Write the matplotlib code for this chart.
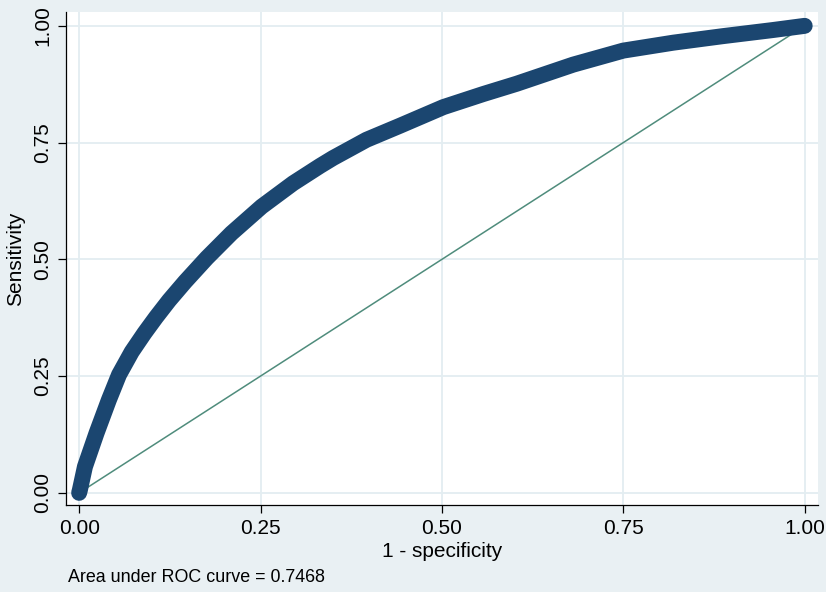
import numpy as np
import matplotlib
matplotlib.use("Agg")
import matplotlib.pyplot as plt

# ROC points (1 - specificity, sensitivity)
fpr = [0.0, 0.001, 0.008, 0.024, 0.041, 0.055, 0.0725, 0.09, 0.106, 0.124,
       0.146, 0.176, 0.210, 0.2516, 0.295, 0.332, 0.350, 0.396, 0.442,
       0.502, 0.557, 0.603, 0.681, 0.750, 0.819, 0.8875, 0.956, 1.0]
tpr = [0.0, 0.006, 0.056, 0.128, 0.199, 0.253, 0.302, 0.342, 0.376, 0.412,
       0.452, 0.503, 0.556, 0.613, 0.663, 0.700, 0.717, 0.756, 0.786,
       0.826, 0.854, 0.876, 0.917, 0.947, 0.964, 0.978, 0.991, 1.0]
ref_line = [0.0, 1.0]
ticks = [0.0, 0.25, 0.50, 0.75, 1.0]
tick_labels = ["0.00", "0.25", "0.50", "0.75", "1.00"]
auc_text = "Area under ROC curve = 0.7468"

plt.rcParams["font.family"] = ["Liberation Sans", "DejaVu Sans"]

bg = "#e9f0f3"
fig = plt.figure(figsize=(8.26, 5.92), dpi=100, facecolor=bg)
ax = fig.add_axes([0.080, 0.147, 0.910, 0.833])
ax.set_facecolor("white")

ax.grid(True, color="#e3edf1", linewidth=1.3)
ax.set_axisbelow(True)

ax.plot(ref_line, ref_line, color="#4f8c7c", linewidth=1.1, zorder=2)
ax.plot(fpr, tpr, color="#1b4670", linewidth=11.5,
        solid_capstyle="round", solid_joinstyle="round", zorder=3)

ax.set_xlim(-0.018, 1.018)
ax.set_ylim(-0.026, 1.030)
ax.set_xticks(ticks)
ax.set_xticklabels(tick_labels)
ax.set_yticks(ticks)
ax.set_yticklabels(tick_labels, rotation=90, va="center")
ax.tick_params(direction="out", length=6, width=0.9, colors="black",
               labelsize=15, pad=4)

for side in ["top", "right"]:
    ax.spines[side].set_visible(False)
for side in ["left", "bottom"]:
    ax.spines[side].set_color("black")
    ax.spines[side].set_linewidth(0.9)

ax.set_xlabel("1 - specificity", fontsize=15, labelpad=3)
ax.set_ylabel("Sensitivity", fontsize=15, labelpad=6)

fig.text(68 / 826, 1 - 577 / 592, auc_text, fontsize=12.9, va="center", ha="left")

fig.savefig("out.png", dpi=100, facecolor=bg)
